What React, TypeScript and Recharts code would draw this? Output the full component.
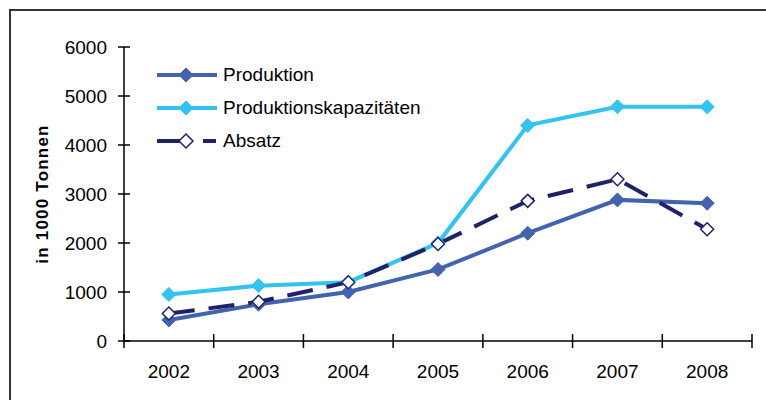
import { LineChart, Line, XAxis, YAxis, Legend } from 'recharts'

const years = ['2002', '2003', '2004', '2005', '2006', '2007', '2008']
const produktion = [430, 750, 1000, 1460, 2200, 2880, 2810]
const kapazitaeten = [950, 1130, 1200, 2000, 4400, 4780, 4780]
const absatz = [560, 800, 1200, 1980, 2860, 3300, 2280]
const yTicks = [0, 1000, 2000, 3000, 4000, 5000, 6000]

const C_PROD = '#4363AF'
const C_KAP = '#33C3F0'
const C_ABS = '#1F2268'
const FONT = '"Liberation Sans", Arial, sans-serif'

const data = years.map((year, i) => ({
  year,
  produktion: produktion[i],
  kapazitaeten: kapazitaeten[i],
  absatz: absatz[i],
}))

// layout
const W = 766
const H = 400
const Y_AXIS_W = 124
const M_RIGHT = 14
const BAND = (W - Y_AXIS_W - M_RIGHT) / years.length

const diamond = (cx: number, cy: number, r: number) =>
  `${cx},${cy - r} ${cx + r},${cy} ${cx},${cy + r} ${cx - r},${cy}`

const FilledDot = (color: string) => (props: any) => {
  const { cx, cy, index } = props
  if (cx == null || cy == null) return <g key={index} />
  return <polygon key={index} points={diamond(cx, cy, 7)} fill={color} stroke={color} strokeWidth={1} />
}

const OpenDot = (props: any) => {
  const { cx, cy, index } = props
  if (cx == null || cy == null) return <g key={index} />
  return <polygon key={index} points={diamond(cx, cy, 6.5)} fill="#fff" stroke={C_ABS} strokeWidth={1.5} />
}

// tick marks cross the axis, ticks sit on the category borders
const XTick = (props: any) => {
  const { x, y, payload, index } = props
  const half = BAND / 2
  return (
    <g>
      <line x1={x - half} x2={x - half} y1={y - 7} y2={y + 7} stroke="#000" strokeWidth={1.5} />
      {index === years.length - 1 && (
        <line x1={x + half} x2={x + half} y1={y - 7} y2={y + 7} stroke="#000" strokeWidth={1.5} />
      )}
      <text x={x} y={y + 37} textAnchor="middle" fontSize={19} fontFamily={FONT} fill="#000">
        {payload.value}
      </text>
    </g>
  )
}

const YTick = (props: any) => {
  const { x, y, payload } = props
  return (
    <g>
      <line x1={x - 6} x2={x + 6} y1={y} y2={y} stroke="#000" strokeWidth={1.5} />
      <text x={x - 17} y={y} dy="0.36em" textAnchor="end" fontSize={19} fontFamily={FONT} fill="#000">
        {payload.value}
      </text>
    </g>
  )
}

const legendItems = [
  { name: 'Produktion', color: C_PROD, dashed: false, open: false },
  { name: 'Produktionskapazitäten', color: C_KAP, dashed: false, open: false },
  { name: 'Absatz', color: C_ABS, dashed: true, open: true },
]

const renderLegend = () => (
  <div style={{ fontFamily: FONT, fontSize: 19, color: '#000' }}>
    {legendItems.map(item => (
      <div key={item.name} style={{ display: 'flex', alignItems: 'center', height: 33 }}>
        <svg width={62} height={20}>
          {item.dashed ? (
            <>
              <line x1={0} x2={26} y1={10} y2={10} stroke={item.color} strokeWidth={4} />
              <line x1={46} x2={59} y1={10} y2={10} stroke={item.color} strokeWidth={4} />
            </>
          ) : (
            <line x1={0} x2={60} y1={10} y2={10} stroke={item.color} strokeWidth={4} />
          )}
          <polygon
            points={diamond(29, 10, 7)}
            fill={item.open ? '#fff' : item.color}
            stroke={item.color}
            strokeWidth={item.open ? 1.5 : 1}
          />
        </svg>
        <span style={{ marginLeft: 4 }}>{item.name}</span>
      </div>
    ))}
  </div>
)

const YLabel = (props: any) => {
  const { viewBox } = props
  const cx = 42
  const cy = viewBox.y + viewBox.height / 2
  return (
    <text
      x={cx}
      y={cy}
      transform={`rotate(-90, ${cx}, ${cy})`}
      textAnchor="middle"
      dominantBaseline="central"
      fontSize={17}
      fontWeight="bold"
      letterSpacing={1.2}
      fontFamily={FONT}
      fill="#000"
    >
      in 1000 Tonnen
    </text>
  )
}

export default function App() {
  return (
    <div
      style={{
        position: 'absolute',
        left: 0,
        top: 0,
        width: W,
        height: H,
        overflow: 'hidden',
        background: '#fff',
      }}
    >
      <div
        style={{
          position: 'absolute',
          left: 9,
          top: 9,
          width: 820,
          height: 440,
          border: '2px solid #333',
        }}
      />
      <div style={{ position: 'absolute', left: 0, top: 0 }}>
        <LineChart width={W} height={H} data={data} margin={{ top: 47, right: M_RIGHT, left: 0, bottom: 14 }}>
          <XAxis
            xAxisId="top"
            dataKey="year"
            orientation="top"
            scale="band"
            height={0}
            tick={false}
            tickLine={false}
            axisLine={{ stroke: '#999', strokeWidth: 1 }}
          />
          <YAxis
            yAxisId="right"
            orientation="right"
            width={0}
            domain={[0, 6000]}
            tick={false}
            tickLine={false}
            axisLine={{ stroke: '#999', strokeWidth: 1 }}
          />
          <XAxis
            dataKey="year"
            scale="band"
            height={45}
            tickLine={false}
            tickSize={0}
            tickMargin={0}
            interval={0}
            tick={<XTick />}
            axisLine={{ stroke: '#000', strokeWidth: 1.5 }}
          />
          <YAxis
            width={Y_AXIS_W}
            domain={[0, 6000]}
            ticks={yTicks}
            interval={0}
            tickLine={false}
            tickSize={0}
            tickMargin={0}
            tick={<YTick />}
            axisLine={{ stroke: '#000', strokeWidth: 1.5 }}
            label={<YLabel />}
          />
          <Legend
            content={renderLegend}
            layout="horizontal"
            verticalAlign="middle"
            align="center"
            wrapperStyle={{ left: 157, top: 58, width: 'auto' }}
          />
          <Line
            dataKey="produktion"
            name="Produktion"
            stroke={C_PROD}
            strokeWidth={4}
            dot={FilledDot(C_PROD)}
            isAnimationActive={false}
          />
          <Line
            dataKey="kapazitaeten"
            name="Produktionskapazitäten"
            stroke={C_KAP}
            strokeWidth={4}
            dot={FilledDot(C_KAP)}
            isAnimationActive={false}
          />
          <Line
            dataKey="absatz"
            name="Absatz"
            stroke={C_ABS}
            strokeWidth={4}
            strokeDasharray="26 14"
            dot={OpenDot}
            isAnimationActive={false}
          />
        </LineChart>
      </div>
    </div>
  )
}
